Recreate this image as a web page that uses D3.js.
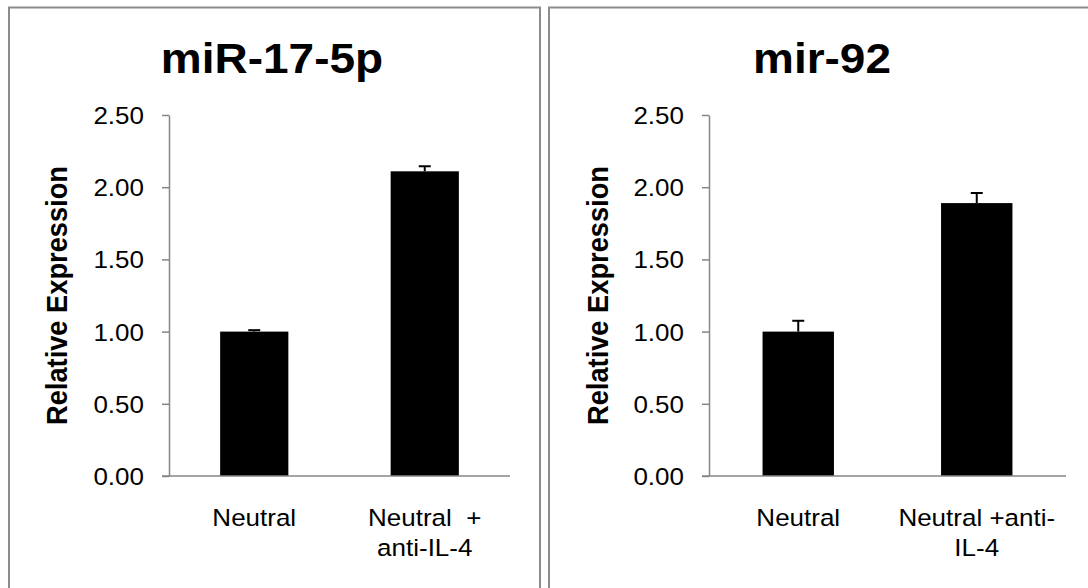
<!DOCTYPE html>
<html>
<head>
<meta charset="utf-8">
<script src="https://cdn.jsdelivr.net/npm/d3@7/dist/d3.min.js"></script>
<style>
  html, body { margin: 0; padding: 0; background: #fff; }
  svg { display: block; font-family: 'Liberation Sans', Arial, sans-serif; }
</style>
</head>
<body>
<svg id="chart" width="1088" height="588"></svg>
<script>
const width = 1088
const height = 588

// data
const titles = ['miR-17-5p', 'mir-92']
const categories = ['Neutral', 'Neutral + anti-IL-4']
const mir17Labels = [['Neutral'], ['Neutral  +', 'anti-IL-4']]
const mir92Labels = [['Neutral'], ['Neutral +anti-', 'IL-4']]
const mir17Values = [1.0, 2.11]
const mir17Errors = [0.01, 0.035]
const mir92Values = [1.0, 1.89]
const mir92Errors = [0.075, 0.07]
const yTicks = [0, 0.5, 1, 1.5, 2, 2.5]
const yLabel = 'Relative Expression'

// the source picture is slightly flattened vertically
const squash = 0.94
const axisColor = '#868686'

const panels = [
  {
    title: titles[0], values: mir17Values, errors: mir17Errors, labels: mir17Labels,
    box: [9, 531], plot: [169, 510], titleX: 272, labelX: 67
  },
  {
    title: titles[1], values: mir92Values, errors: mir92Errors, labels: mir92Labels,
    box: [549, 600], plot: [709, 1066], titleX: 822, labelX: 608
  }
]

const svg = d3.select('#chart')

function flatText(sel, x, y, rotate) {
  return sel.attr('transform', `translate(${x},${y}) scale(1,${squash})` + (rotate ? ' rotate(-90)' : ''))
}

panels.forEach((p) => drawPanel(svg.append('g').attr('class', 'panel'), p))

function drawPanel(g, p) {
  const top = 115
  const bottom = 476

  // frame
  g.append('rect')
    .attr('x', p.box[0])
    .attr('y', 7.5)
    .attr('width', p.box[1])
    .attr('height', 640)
    .attr('fill', 'none')
    .attr('stroke', '#8c8c8c')
    .attr('stroke-width', 2)

  const x = d3.scaleBand()
    .domain(categories)
    .range(p.plot)
    .paddingInner(0.6)
    .paddingOuter(0.3)

  const y = d3.scaleLinear().domain([0, 2.5]).range([bottom, top])

  // y axis
  const yAxis = g.append('g')
    .attr('transform', `translate(${p.plot[0]},0)`)
    .call(d3.axisLeft(y).tickValues(yTicks).tickFormat(d3.format('.2f')).tickSize(7).tickSizeOuter(0).tickPadding(18))
  yAxis.select('.domain').attr('stroke', axisColor).attr('stroke-width', 1.5)
  yAxis.selectAll('.tick line').attr('stroke', axisColor).attr('stroke-width', 1.5)
  yAxis.selectAll('.tick text')
    .attr('font-size', 26)
    .attr('fill', '#000')
    .attr('dy', '0.35em')
    .attr('x', null)
    .each(function () {
      flatText(d3.select(this), -25, 0)
    })

  // bars
  g.append('g')
    .selectAll('rect')
    .data(p.values)
    .join('rect')
    .attr('x', (d, i) => x(categories[i]))
    .attr('y', (d) => y(d))
    .attr('width', x.bandwidth())
    .attr('height', (d) => y(0) - y(d))
    .attr('fill', '#000')

  // error bars, upper half only
  const err = g.append('g').attr('stroke', '#000').attr('stroke-width', 2)
  p.values.forEach((v, i) => {
    const cx = x(categories[i]) + x.bandwidth() / 2
    err.append('line')
      .attr('x1', cx).attr('x2', cx)
      .attr('y1', y(v)).attr('y2', y(v + p.errors[i]))
    err.append('line')
      .attr('x1', cx - 6).attr('x2', cx + 6)
      .attr('y1', y(v + p.errors[i])).attr('y2', y(v + p.errors[i]))
  })

  // x baseline
  g.append('line')
    .attr('x1', p.plot[0] - 7)
    .attr('x2', p.plot[1])
    .attr('y1', y(0))
    .attr('y2', y(0))
    .attr('stroke', axisColor)
    .attr('stroke-width', 1.5)

  // category labels
  g.append('g')
    .selectAll('text')
    .data(p.labels)
    .join('text')
    .attr('text-anchor', 'middle')
    .attr('font-size', 26)
    .style('white-space', 'pre')
    .each(function (lines, i) {
      const el = d3.select(this)
      flatText(el, x(categories[i]) + x.bandwidth() / 2, y(0) + 50)
      lines.forEach((t, k) => {
        el.append('tspan')
          .attr('x', 0)
          .attr('dy', k === 0 ? 0 : 30 / squash)
          .text(t)
      })
    })

  // title
  flatText(g.append('text'), p.titleX, 73)
    .attr('text-anchor', 'middle')
    .attr('font-size', 46)
    .attr('font-weight', 'bold')
    .text(p.title)

  // y axis title
  flatText(g.append('text'), p.labelX, (top + bottom) / 2, true)
    .attr('text-anchor', 'middle')
    .attr('font-size', 29)
    .attr('font-weight', 'bold')
    .text(yLabel)
}
</script>
</body>
</html>
